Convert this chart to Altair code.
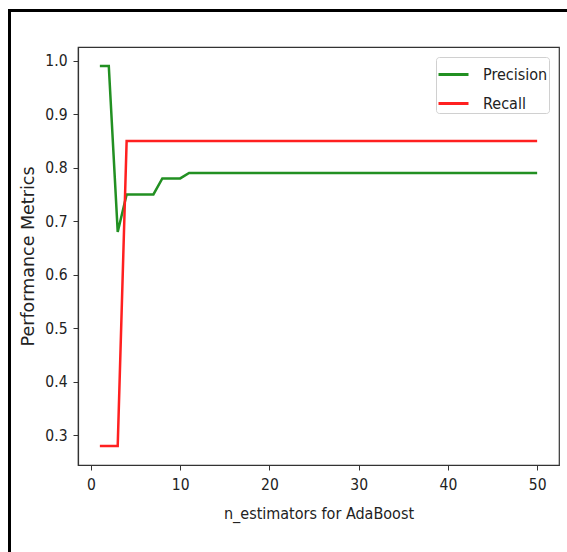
import altair as alt
import pandas as pd

n_estimators = list(range(1, 51))
precision = [0.99, 0.99, 0.68, 0.75, 0.75, 0.75, 0.75, 0.78, 0.78, 0.78,
             0.79, 0.79, 0.79, 0.79, 0.79, 0.79, 0.79, 0.79, 0.79, 0.79,
             0.79, 0.79, 0.79, 0.79, 0.79, 0.79, 0.79, 0.79, 0.79, 0.79,
             0.79, 0.79, 0.79, 0.79, 0.79, 0.79, 0.79, 0.79, 0.79, 0.79,
             0.79, 0.79, 0.79, 0.79, 0.79, 0.79, 0.79, 0.79, 0.79, 0.79]
recall = [0.28, 0.28, 0.28, 0.85, 0.85, 0.85, 0.85, 0.85, 0.85, 0.85,
          0.85, 0.85, 0.85, 0.85, 0.85, 0.85, 0.85, 0.85, 0.85, 0.85,
          0.85, 0.85, 0.85, 0.85, 0.85, 0.85, 0.85, 0.85, 0.85, 0.85,
          0.85, 0.85, 0.85, 0.85, 0.85, 0.85, 0.85, 0.85, 0.85, 0.85,
          0.85, 0.85, 0.85, 0.85, 0.85, 0.85, 0.85, 0.85, 0.85, 0.85]
series_names = ["Precision", "Recall"]
series_colors = ["#229022", "#ff2020"]

rows = []
for i, n in enumerate(n_estimators):
    rows.append({"n": n, "value": precision[i], "metric": series_names[0]})
    rows.append({"n": n, "value": recall[i], "metric": series_names[1]})
df = pd.DataFrame(rows)

FONT = "DejaVu Sans Condensed"
YFONT = "DejaVu Sans"

lines = alt.Chart(df).mark_line(strokeWidth=2.5, clip=True).encode(
    x=alt.X("n:Q", scale=alt.Scale(domain=[-1.45, 52.45], nice=False, zero=False),
            axis=alt.Axis(title="n_estimators for AdaBoost", values=[0, 10, 20, 30, 40, 50],
                          format="d", grid=False, tickSize=5, labelPadding=7,
                          titlePadding=13, titleFontSize=16)),
    y=alt.Y("value:Q", scale=alt.Scale(domain=[0.2445, 1.0255], nice=False, zero=False),
            axis=alt.Axis(title="Performance Metrics",
                          values=[0.3, 0.4, 0.5, 0.6, 0.7, 0.8, 0.9, 1.0],
                          format=".1f", grid=False, tickSize=5, labelPadding=6,
                          titlePadding=7, titleFont=YFONT, titleFontSize=17.5)),
    color=alt.Color("metric:N",
                    scale=alt.Scale(domain=series_names, range=series_colors),
                    legend=alt.Legend(title=None, orient="none", legendX=358, legendY=10,
                                      symbolType="stroke", symbolSize=900,
                                      symbolStrokeWidth=3, labelFontSize=16,
                                      labelFont=FONT, labelColor="#222",
                                      strokeColor="#d0d0d0", fillColor="white",
                                      cornerRadius=3, padding=1, rowPadding=4,
                                      labelOffset=13)),
)

frame_left = alt.Chart(pd.DataFrame({"k": [0]})).mark_rule(
    color="black", strokeWidth=3, clip=False
).encode(x=alt.value(-68.5), y=alt.value(-37), y2=alt.value(505))
frame_top = alt.Chart(pd.DataFrame({"k": [0]})).mark_rule(
    color="black", strokeWidth=3, clip=False
).encode(y=alt.value(-36.5), x=alt.value(-70), x2=alt.value(489))

chart = alt.layer(lines, frame_left, frame_top).properties(
    width=481, height=418,
    autosize=alt.AutoSizeParams(type="none"),
    padding={"left": 78, "top": 47, "right": 8, "bottom": 87},
    background="white",
).configure_view(
    stroke="#333", strokeWidth=1.2
).configure_axis(
    labelFont=FONT, titleFont=FONT, labelFontSize=15.5, titleFontSize=16,
    labelColor="#222", titleColor="#222", titleFontWeight="normal",
    domainColor="#333", tickColor="#333", domainWidth=1.2,
)

chart.save("out.html", embed_options={"renderer": "svg", "actions": False})
